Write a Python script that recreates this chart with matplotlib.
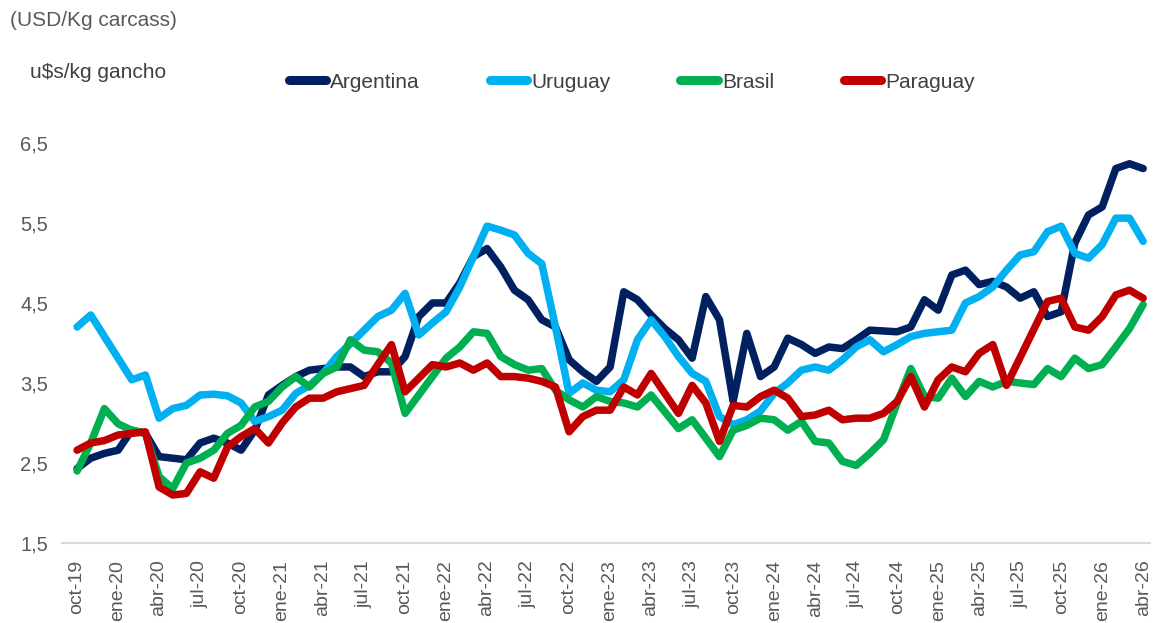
import matplotlib
matplotlib.use("Agg")
import matplotlib.pyplot as plt
from matplotlib.lines import Line2D

# Precio novillo (u$s/kg gancho), mensual oct-19 .. abr-26
argentina = [
    2.43, 2.56, 2.62, 2.66, 2.91, 2.87, 2.58, 2.56, 2.54, 2.75, 2.81, 2.75,
    2.66, 2.91, 3.35, 3.47, 3.58, 3.66, 3.68, 3.70, 3.70, 3.58, 3.64, 3.64,
    3.83, 4.33, 4.50, 4.50, 4.75, 5.08, 5.18, 4.95, 4.66, 4.54, 4.29, 4.20,
    3.79, 3.64, 3.52, 3.70, 4.64, 4.54, 4.35, 4.18, 4.04, 3.81, 4.58, 4.29,
    3.27, 4.12, 3.58, 3.70, 4.06, 3.98, 3.87, 3.95, 3.93, 4.04, 4.16, 4.15,
    4.14, 4.20, 4.54, 4.41, 4.85, 4.91, 4.73, 4.77, 4.70, 4.56, 4.64, 4.33,
    4.39, 5.25, 5.60, 5.70, 6.18, 6.24, 6.18,
]
uruguay = [
    4.20, 4.35, 4.08, 3.81, 3.54, 3.60, 3.06, 3.18, 3.22, 3.35, 3.36, 3.34,
    3.25, 3.02, 3.08, 3.16, 3.37, 3.47, 3.62, 3.83, 3.99, 4.16, 4.33, 4.41,
    4.62, 4.10, 4.25, 4.39, 4.70, 5.08, 5.46, 5.41, 5.35, 5.12, 4.99, 4.20,
    3.37, 3.50, 3.41, 3.39, 3.54, 4.04, 4.29, 4.08, 3.83, 3.62, 3.52, 3.08,
    2.98, 3.04, 3.15, 3.37, 3.50, 3.66, 3.70, 3.66, 3.79, 3.95, 4.04, 3.89,
    3.98, 4.08, 4.12, 4.14, 4.16, 4.50, 4.58, 4.70, 4.91, 5.10, 5.14, 5.39,
    5.46, 5.12, 5.06, 5.23, 5.56, 5.56, 5.27,
]
brasil = [
    2.40, 2.75, 3.18, 2.99, 2.91, 2.87, 2.33, 2.18, 2.50, 2.56, 2.66, 2.87,
    2.97, 3.20, 3.27, 3.45, 3.58, 3.45, 3.62, 3.70, 4.04, 3.91, 3.89, 3.75,
    3.12, 3.35, 3.58, 3.81, 3.95, 4.14, 4.12, 3.83, 3.73, 3.66, 3.68, 3.41,
    3.29, 3.20, 3.33, 3.27, 3.25, 3.20, 3.35, 3.14, 2.93, 3.04, 2.81, 2.58,
    2.91, 2.97, 3.06, 3.04, 2.91, 3.02, 2.77, 2.75, 2.52, 2.47, 2.62, 2.79,
    3.25, 3.68, 3.33, 3.31, 3.56, 3.33, 3.52, 3.45, 3.52, 3.50, 3.48, 3.68,
    3.58, 3.81, 3.68, 3.73, 3.95, 4.18, 4.48,
]
paraguay = [
    2.66, 2.75, 2.78, 2.85, 2.87, 2.89, 2.20, 2.10, 2.12, 2.39, 2.31, 2.70,
    2.83, 2.93, 2.75, 3.00, 3.20, 3.31, 3.31, 3.39, 3.43, 3.47, 3.73, 3.98,
    3.39, 3.56, 3.73, 3.70, 3.75, 3.66, 3.75, 3.58, 3.58, 3.56, 3.52, 3.45,
    2.89, 3.08, 3.16, 3.16, 3.45, 3.35, 3.62, 3.37, 3.12, 3.47, 3.25, 2.77,
    3.22, 3.20, 3.33, 3.41, 3.31, 3.08, 3.10, 3.16, 3.04, 3.06, 3.06, 3.12,
    3.27, 3.58, 3.20, 3.54, 3.70, 3.64, 3.87, 3.98, 3.47, 3.82, 4.17, 4.52,
    4.56, 4.20, 4.16, 4.33, 4.60, 4.66, 4.56,
]

tick_labels = [
    "oct-19", "ene-20", "abr-20", "jul-20", "oct-20", "ene-21", "abr-21",
    "jul-21", "oct-21", "ene-22", "abr-22", "jul-22", "oct-22", "ene-23",
    "abr-23", "jul-23", "oct-23", "ene-24", "abr-24", "jul-24", "oct-24",
    "ene-25", "abr-25", "jul-25", "oct-25", "ene-26", "abr-26",
]
y_ticks = [1.5, 2.5, 3.5, 4.5, 5.5, 6.5]

series = [
    ("Argentina", argentina, "#002060"),
    ("Uruguay", uruguay, "#00B0F0"),
    ("Brasil", brasil, "#00B050"),
    ("Paraguay", paraguay, "#C00000"),
]

FONT = ["Liberation Sans", "DejaVu Sans"]
GREY = "#595959"

fig = plt.figure(figsize=(11.53, 6.23), dpi=100)
ax = fig.add_axes([0.0538, 0.1284, 0.9436, 0.655])

x = list(range(len(argentina)))
for name, vals, color in series:
    ax.plot(x, vals, color=color, lw=5.4, label=name,
            solid_joinstyle="round", solid_capstyle="round")

ax.set_xlim(-1.1, 78.5)
ax.set_ylim(1.5, 6.6)

ax.set_xticks(list(range(0, len(argentina), 3)))
ax.set_xticklabels(tick_labels, rotation=90, fontsize=14, color=GREY,
                   family=FONT, va="top", ha="center")
ax.set_yticks(y_ticks)
ax.set_yticklabels([f"{v:.1f}".replace(".", ",") for v in y_ticks],
                   fontsize=14.5, color=GREY, family=FONT)
ax.tick_params(axis="both", length=0)
ax.tick_params(axis="x", pad=12)
ax.tick_params(axis="y", pad=10)

for side in ("top", "right", "left"):
    ax.spines[side].set_visible(False)
ax.spines["bottom"].set_color("#d9d9d9")
ax.spines["bottom"].set_linewidth(1.5)

fig.text(0.009, 1 - 20 / 623, "(USD/Kg carcass)", fontsize=15, color=GREY,
         family=FONT, va="center", ha="left")
fig.text(0.026, 1 - 72 / 623, "u$s/kg gancho", fontsize=15, color="#404040",
         family=FONT, va="center", ha="left")

handles = [Line2D([0], [0], color=c, lw=6.5, solid_capstyle="round")
           for _, _, c in series]
fig.legend(handles, [n for n, _, _ in series], loc="center",
           bbox_to_anchor=(0.548, 1 - 82 / 623), ncol=4, frameon=False,
           handlelength=1.8, handletextpad=0.2, columnspacing=3.35,
           prop={"family": FONT, "size": 15}, labelcolor="#404040")

fig.savefig("out.png", dpi=100)
